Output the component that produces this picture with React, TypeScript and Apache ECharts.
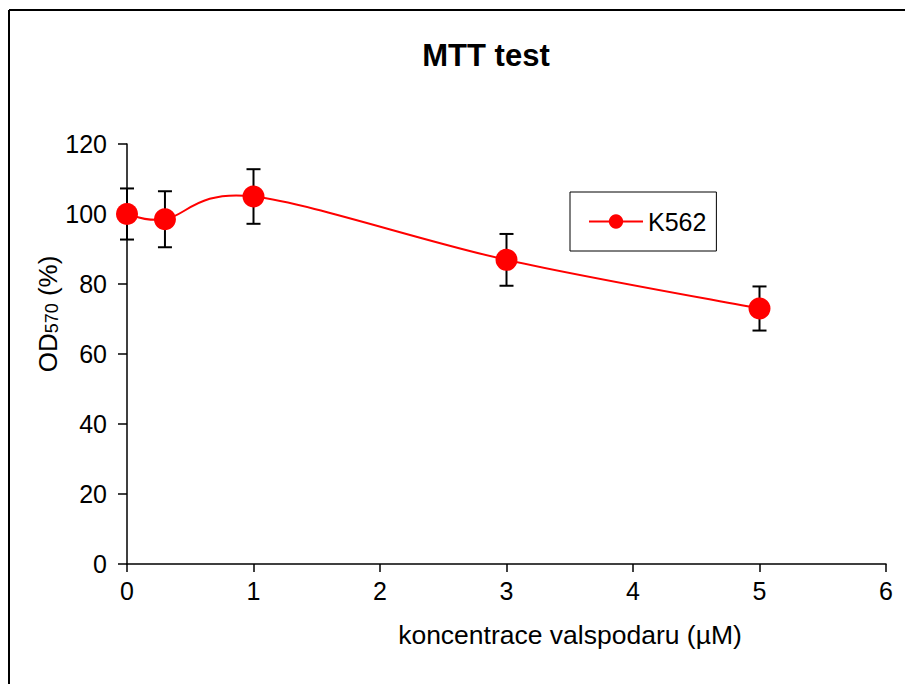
import React, { useEffect, useRef } from "react";
import * as echarts from "echarts";

const concentrations = [0, 0.3, 1, 3, 5];
const odValues = [100, 98.5, 105, 86.9, 73];
const odErrors = [7.3, 8, 7.8, 7.4, 6.3];
const seriesName = "K562";
const xTicks = { min: 0, max: 6, interval: 1 };
const yTicks = { min: 0, max: 120, interval: 20 };

const FONT = "'Liberation Sans', Arial, sans-serif";
const RED = "#FF0000";

export default function App() {
  const ref = useRef<HTMLDivElement>(null);
  useEffect(() => {
    if (!ref.current) return;
    const chart = echarts.init(ref.current, null, { renderer: "svg" });
    const lineData = concentrations.map((x, i) => [x, odValues[i]]);
    const errData = concentrations.map((x, i) => [x, odValues[i] - odErrors[i], odValues[i] + odErrors[i]]);
    const n = lineData.length;
    chart.setOption({
      animation: false,
      backgroundColor: "#fff",
      title: {
        text: "MTT test",
        left: 486,
        top: 40,
        textAlign: "center",
        padding: 0,
        textStyle: { fontFamily: FONT, fontSize: 31, fontWeight: "bold", color: "#000" },
      },
      grid: { left: 127, right: 19, top: 144, bottom: 120, containLabel: false },
      legend: {
        data: [seriesName],
        left: 570,
        top: 192,
        orient: "vertical",
        padding: [17, 10, 17, 18],
        borderColor: "#000",
        borderWidth: 1,
        itemWidth: 54,
        itemHeight: 18,
        lineStyle: { color: RED, width: 2, opacity: 1 },
        textStyle: { fontFamily: FONT, fontSize: 25, color: "#000" },
      },
      xAxis: {
        type: "value",
        min: xTicks.min,
        max: xTicks.max,
        interval: xTicks.interval,
        splitLine: { show: false },
        axisLine: { show: true, lineStyle: { color: "#000", width: 1.5 } },
        axisTick: { show: true, inside: false, length: 8, lineStyle: { color: "#000", width: 1.5 } },
        axisLabel: { fontFamily: FONT, fontSize: 25, color: "#000", margin: 14 },
      },
      yAxis: {
        type: "value",
        min: yTicks.min,
        max: yTicks.max,
        interval: yTicks.interval,
        splitLine: { show: false },
        axisLine: { show: true, lineStyle: { color: "#000", width: 1.5 } },
        axisTick: { show: true, inside: false, length: 9, lineStyle: { color: "#000", width: 1.5 } },
        axisLabel: { fontFamily: FONT, fontSize: 25, color: "#000", margin: 20 },
      },
      graphic: [
        { type: "line", shape: { x1: 9, y1: 10, x2: 905, y2: 10 }, style: { stroke: "#000", lineWidth: 2 } },
        { type: "line", shape: { x1: 9, y1: 10, x2: 9, y2: 684 }, style: { stroke: "#000", lineWidth: 2 } },
        {
          type: "text",
          x: 570,
          y: 635,
          style: {
            text: "koncentrace valspodaru (µM)",
            fontFamily: FONT,
            fontSize: 26.5,
            fill: "#000",
            textAlign: "center",
            textVerticalAlign: "middle",
          },
        },
        {
          type: "text",
          x: 46,
          y: 314,
          rotation: Math.PI / 2,
          style: {
            text: "{a|OD}{s|570}{a| (%)}",
            textAlign: "center",
            textVerticalAlign: "middle",
            fill: "#000",
            rich: {
              a: { fontFamily: FONT, fontSize: 26, fill: "#000", lineHeight: 30, verticalAlign: "bottom" },
              s: { fontFamily: FONT, fontSize: 18, fill: "#000", lineHeight: 30, verticalAlign: "bottom", padding: [10, 0, 0, 0] },
            },
          },
        },
      ],
      series: [
        {
          type: "custom",
          name: "err",
          data: errData,
          clip: false,
          z: 1,
          encode: { x: 0, y: [1, 2] },
          renderItem: (params: any, api: any) => {
            const lo = api.coord([api.value(0), api.value(1)]);
            const hi = api.coord([api.value(0), api.value(2)]);
            const w = 7;
            const st = { stroke: "#000", lineWidth: 2 };
            return {
              type: "group",
              children: [
                { type: "line", shape: { x1: lo[0], y1: lo[1], x2: hi[0], y2: hi[1] }, style: st },
                { type: "line", shape: { x1: lo[0] - w, y1: lo[1], x2: lo[0] + w, y2: lo[1] }, style: st },
                { type: "line", shape: { x1: hi[0] - w, y1: hi[1], x2: hi[0] + w, y2: hi[1] }, style: st },
              ],
            };
          },
        },
        {
          type: "custom",
          name: "curve",
          data: lineData,
          clip: false,
          z: 2,
          encode: { x: 0, y: 1 },
          renderItem: (params: any, api: any) => {
            const i = params.dataIndex;
            if (i >= n - 1) return { type: "group", children: [] };
            const P = (k: number) => {
              const kk = Math.max(0, Math.min(n - 1, k));
              return api.coord(lineData[kk]);
            };
            const p0 = P(i - 1), p1 = P(i), p2 = P(i + 1), p3 = P(i + 2);
            return {
              type: "bezierCurve",
              shape: {
                x1: p1[0],
                y1: p1[1],
                x2: p2[0],
                y2: p2[1],
                cpx1: p1[0] + (p2[0] - p0[0]) / 6,
                cpy1: p1[1] + (p2[1] - p0[1]) / 6,
                cpx2: p2[0] - (p3[0] - p1[0]) / 6,
                cpy2: p2[1] - (p3[1] - p1[1]) / 6,
              },
              style: { stroke: RED, lineWidth: 2, fill: "none" },
            };
          },
        },
        {
          type: "line",
          name: seriesName,
          data: lineData,
          symbol: "circle",
          symbolSize: 22,
          z: 3,
          itemStyle: { color: RED },
          lineStyle: { color: RED, width: 2, opacity: 0 },
        },
      ],
    });
    return () => chart.dispose();
  }, []);
  return <div ref={ref} style={{ position: "fixed", left: 0, top: 0, width: 905, height: 684 }} />;
}
